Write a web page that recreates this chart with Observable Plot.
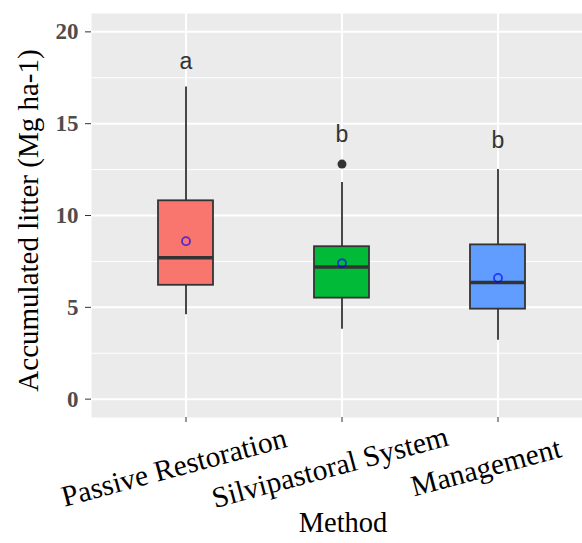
<!DOCTYPE html>
<html>
<head>
<meta charset="utf-8">
<script src="https://cdn.jsdelivr.net/npm/d3@7"></script>
<script src="https://cdn.jsdelivr.net/npm/@observablehq/plot@0.6"></script>
<style>
  html, body { margin: 0; padding: 0; background: white; }
</style>
</head>
<body>
<div id="chart"></div>
<script>
const methods = ["Passive Restoration", "Silvipastoral System", "Management"];
const lower  = [4.6, 3.8, 3.2];
const q1     = [6.2, 5.5, 4.9];
const median = [7.7, 7.2, 6.35];
const q3     = [10.8, 8.3, 8.4];
const upper  = [17.0, 11.8, 12.5];
const means  = [8.6, 7.4, 6.6];
const letters = ["a", "b", "b"];
const letterY = [18.4, 14.4, 14.1];
const outlierMethod = ["Silvipastoral System"];
const outlierValue = [12.8];
const fills = ["#F8766D", "#00BA38", "#619CFF"];
const majorTicks = [0, 5, 10, 15, 20];
const minorTicks = [2.5, 7.5, 12.5, 17.5];

const boxes = methods.map((m, i) => ({
  method: m, lower: lower[i], q1: q1[i], median: median[i], q3: q3[i],
  upper: upper[i], mean: means[i], letter: letters[i], letterY: letterY[i]
}));
const outliers = outlierMethod.map((m, i) => ({method: m, value: outlierValue[i]}));

const serif = "'Liberation Serif', 'DejaVu Serif', serif";
const sans = "'Liberation Sans', Arial, sans-serif";

const chart = Plot.plot({
  width: 582,
  height: 543,
  marginLeft: 91,
  marginRight: 0,
  marginTop: 13,
  marginBottom: 126,
  style: {background: "white", fontFamily: serif},
  x: {type: "band", domain: methods, range: [91, 592], paddingInner: 0.65, paddingOuter: 0.4256, axis: null},
  y: {domain: [-1, 21], axis: null},
  color: {domain: methods, range: fills},
  marks: [
    Plot.frame({fill: "#EBEBEB", stroke: null}),
    Plot.gridY(minorTicks, {stroke: "white", strokeOpacity: 1, strokeWidth: 1}),
    Plot.gridY(majorTicks, {stroke: "white", strokeOpacity: 1, strokeWidth: 2}),
    Plot.gridX(methods, {stroke: "white", strokeOpacity: 1, strokeWidth: 2}),
    Plot.axisY({ticks: majorTicks, tickSize: 6, tickPadding: 7, stroke: "#333", fill: "#4d4d4d",
      fontSize: 23, fontWeight: "bold", fontFamily: serif, label: null}),
    Plot.axisX({tickSize: 5, stroke: "#333", label: null, text: null}),
    Plot.axisX({tickSize: 0, tickPadding: 50, tickRotate: -15, textAnchor: "middle", lineAnchor: "middle",
      dx: -12, fill: "black", fontSize: 29.5, fontFamily: serif, label: null}),
    Plot.ruleX(boxes, {x: "method", y1: "lower", y2: "q1", stroke: "#333", strokeWidth: 1.8}),
    Plot.ruleX(boxes, {x: "method", y1: "q3", y2: "upper", stroke: "#333", strokeWidth: 1.8}),
    Plot.barY(boxes, {x: "method", y1: "q1", y2: "q3", fill: "method", stroke: "#333", strokeWidth: 1.8}),
    Plot.tickY(boxes, {x: "method", y: "median", stroke: "#333", strokeWidth: 3.5}),
    Plot.dot(outliers, {x: "method", y: "value", r: 4.5, fill: "#333", stroke: null}),
    Plot.dot(boxes, {x: "method", y: "mean", r: 4, fill: "none", stroke: "blue", strokeOpacity: 0.65, strokeWidth: 1.8}),
    Plot.text(boxes, {x: "method", y: "letterY", text: "letter", fontSize: 23, fontFamily: sans, fill: "#333", lineAnchor: "middle"}),
    Plot.text(["Accumulated litter (Mg ha-1)"], {frameAnchor: "left", rotate: -90, dx: -63, dy: 5,
      textAnchor: "middle", fontSize: 29, fontFamily: serif, fill: "black", lineAnchor: "middle"}),
    Plot.text(["Method"], {frameAnchor: "bottom", dx: 6, dy: 105, textAnchor: "middle", fontSize: 28.5, fontFamily: serif, fill: "black", lineAnchor: "middle"})
  ]
});
document.getElementById("chart").appendChild(chart);
</script>
</body>
</html>
